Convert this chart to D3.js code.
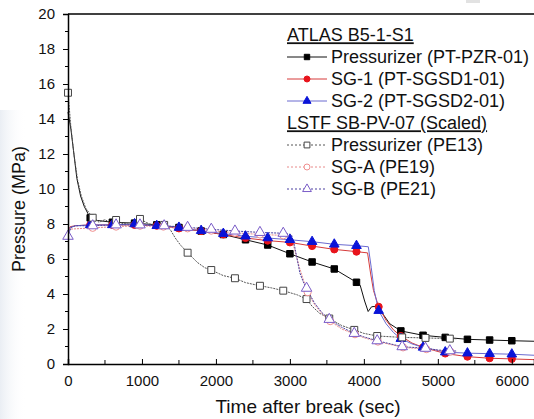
<!DOCTYPE html>
<html>
<head>
<meta charset="utf-8">
<script src="https://cdn.jsdelivr.net/npm/d3@7"></script>
<style>
    body { margin: 0; background: #fff; }
    text { font-family: Arial, "Liberation Sans", sans-serif; fill: #111; }
</style>
</head>
<body>
<svg id="chart" width="534" height="419"></svg>
<script>
// data: [time (s), pressure (MPa), has marker]
const atlas_pzr= [
    [0,14.4,0],[40,13.4,0],[80,12.0,0],[120,10.6,0],[170,9.6,0],[220,9.0,0],[300,8.35,1],[400,8.2,0],
    [600,8.1,1],[900,8.05,1],[1200,7.95,1],[1500,7.8,1],[1800,7.6,1],[2100,7.4,1],[2400,7.1,1],
    [2700,6.8,1],[3000,6.3,1],[3300,5.83,1],[3600,5.43,1],[3900,4.67,1],[3950,4.5,0],[4010,3.6,0],
    [4058,3.0,0],[4104,3.27,0],[4170,3.3,0],[4250,2.9,0],[4350,2.3,0],[4500,1.89,1],[4800,1.64,1],
    [5100,1.52,1],[5400,1.41,1],[5700,1.37,1],[6000,1.33,1],[6300,1.3,0],
]
const atlas_sg1= [
    [0,7.6,0],[30,7.85,0],[100,7.9,0],[300,7.95,1],[600,7.95,1],[900,7.95,1],[1200,7.9,1],[1500,7.75,1],
    [1800,7.6,1],[2100,7.4,1],[2400,7.2,1],[2700,7.05,1],[3000,6.95,1],[3300,6.74,1],[3600,6.55,1],
    [3900,6.42,1],[4050,6.35,0],[4090,5.2,0],[4130,4.2,0],[4200,3.27,1],[4300,2.5,0],[4400,1.95,0],
    [4500,1.6,1],[4650,1.2,0],[4800,0.95,1],[5100,0.6,1],[5400,0.42,1],[5700,0.33,1],[6000,0.29,1],
    [6300,0.25,0],
]
const atlas_sg2= [
    [0,7.4,0],[30,7.8,0],[100,7.9,0],[300,7.95,1],[600,7.95,1],[900,8.0,1],[1200,7.9,1],[1500,7.8,1],
    [1800,7.62,1],[2100,7.45,1],[2400,7.3,1],[2700,7.2,1],[3000,7.1,1],[3300,6.99,1],[3600,6.84,1],
    [3900,6.76,1],[4060,6.7,0],[4100,5.5,0],[4140,4.2,0],[4200,3.05,1],[4300,2.3,0],[4400,1.8,0],
    [4500,1.45,1],[4650,1.15,0],[4800,0.95,1],[5100,0.68,1],[5400,0.62,1],[5700,0.59,1],[6000,0.56,1],
    [6300,0.5,0],
]
const lstf_pzr= [
    [0,15.5,1],[40,13.5,0],[80,12.0,0],[130,10.5,0],[180,9.6,0],[240,8.9,0],[334,8.36,1],[420,8.1,0],
    [500,8.25,0],[580,8.05,0],[650,8.23,1],[750,8.0,0],[850,8.1,0],[973,8.29,1],[1100,8.0,0],
    [1300,7.95,1],[1380,7.7,0],[1450,7.2,0],[1520,6.8,0],[1617,6.36,1],[1750,5.8,0],[1850,5.5,0],
    [1937,5.37,1],[2100,5.05,0],[2257,4.9,1],[2400,4.65,0],[2595,4.47,1],[2750,4.35,0],[2910,4.19,1],
    [3100,3.95,0],[3225,3.71,1],[3300,3.3,0],[3400,2.9,0],[3532,2.6,1],[3700,2.2,0],[3870,1.95,1],
    [4000,1.75,0],[4180,1.6,1],[4518,1.52,1],[4833,1.49,1],[5162,1.45,1],[5250,1.44,0],
]
const lstf_sga= [
    [0,7.7,0],[334,7.78,1],[650,7.85,1],[973,7.9,1],[1290,7.85,1],[1617,7.75,1],[1937,7.62,1],
    [2257,7.5,1],[2595,7.4,1],[2910,7.35,1],[3010,7.3,0],[3060,6.6,0],[3130,5.5,0],[3190,4.7,0],
    [3240,4.1,1],[3340,3.35,0],[3440,2.85,0],[3545,2.45,1],[3700,2.0,0],[3880,1.7,1],[4000,1.5,0],
    [4190,1.28,1],[4530,0.95,1],[4845,0.85,1],[5170,0.7,1],[5250,0.68,0],
]
const lstf_sgb= [
    [0,7.3,1],[40,7.8,0],[100,7.9,0],[334,7.9,1],[650,7.95,1],[973,7.95,1],[1300,7.9,1],[1617,7.81,1],
    [1937,7.7,1],[2257,7.6,1],[2595,7.52,1],[2910,7.47,1],[3020,7.4,0],[3060,6.8,0],[3135,5.2,0],
    [3180,4.7,0],[3225,4.33,1],[3330,3.5,0],[3430,2.95,0],[3532,2.55,1],[3700,2.1,0],[3870,1.75,1],
    [4000,1.55,0],[4180,1.33,1],[4518,0.99,1],[4833,0.9,1],[5000,0.8,0],[5162,0.76,1],[5250,0.74,0],
]
const x_ticks= [0,1000,2000,3000,4000,5000,6000]
const y_ticks= [0,2,4,6,8,10,12,14,16,18,20]

// series styles (drawing order: ATLAS first, LSTF on top)
const series= [
    {name:"Pressurizer (PT-PZR-01)", data:atlas_pzr, line:"#111", dash:null, symbol:d3.symbolSquare, size:42, fill:"#000", stroke:"#000"},
    {name:"SG-1 (PT-SGSD1-01)", data:atlas_sg1, line:"#d63a3a", dash:null, symbol:d3.symbolCircle, size:40, fill:"#e8141c", stroke:"#e8141c"},
    {name:"SG-2 (PT-SGSD2-01)", data:atlas_sg2, line:"#6a6ad0", dash:null, symbol:d3.symbolTriangle, size:40, fill:"#0a14d8", stroke:"#0a14d8"},
    {name:"Pressurizer (PE13)", data:lstf_pzr, line:"#555", dash:"2,1", symbol:d3.symbolSquare, size:48, fill:"#fff", stroke:"#444"},
    {name:"SG-A (PE19)", data:lstf_sga, line:"#e88a8a", dash:"2,1", symbol:d3.symbolCircle, size:40, fill:"#fff", stroke:"#f09090"},
    {name:"SG-B (PE21)", data:lstf_sgb, line:"#4a3fa0", dash:"2,1", symbol:d3.symbolTriangle, size:48, fill:"#fff", stroke:"#7a5cc8"},
]

const svg= d3.select("#chart")
const m_left= 68, m_right= 534, m_top= 14, m_bottom= 364

// faint shading on the left edge
let defs= svg.append("defs")
let grad= defs.append("linearGradient").attr("id", "shade").attr("x1", 0).attr("x2", 1).attr("y1", 0).attr("y2", 0)
grad.append("stop").attr("offset", 0).attr("stop-color", "#d5dde8").attr("stop-opacity", 0.5)
grad.append("stop").attr("offset", 1).attr("stop-color", "#fff").attr("stop-opacity", 0)
svg.append("rect").attr("x", 0).attr("y", 110).attr("width", 26).attr("height", 309).attr("fill", "url(#shade)")
svg.append("rect").attr("x", 466).attr("y", 0).attr("width", 14).attr("height", 3).attr("fill", "#e2e2e2")

const x= d3.scaleLinear().domain([0, 6300]).range([m_left, m_right])
const y= d3.scaleLinear().domain([0, 20]).range([m_bottom, m_top])

// lines
let line= d3.line().x(d => x(d[0])).y(d => y(d[1]))
let plot= svg.append("g")
series.forEach(s => {
    plot.append("path")
        .attr("d", line(s.data))
        .attr("fill", "none")
        .attr("stroke", s.line)
        .attr("stroke-width", 1)
        .attr("stroke-dasharray", s.dash)
})
series.forEach(s => {
    plot.append("g").selectAll("path")
        .data(s.data.filter(d => d[2]))
        .join("path")
        .attr("transform", d => `translate(${x(d[0])},${y(d[1])})`)
        .attr("d", d3.symbol(s.symbol, s.size))
        .attr("fill", s.fill)
        .attr("stroke", s.stroke)
        .attr("stroke-width", 1)
})

// axes
let x_axis= svg.append("g").attr("transform", `translate(0,${m_bottom})`)
    .call(d3.axisBottom(x).tickValues(x_ticks).tickSize(-5).tickPadding(11).tickFormat(d3.format("d")))
x_axis.append("g").selectAll("line")
    .data(d3.range(500, 6300, 1000))
    .join("line")
    .attr("x1", d => x(d)).attr("x2", d => x(d))
    .attr("y1", 0).attr("y2", -4)
    .attr("stroke", "#000")
let y_axis= svg.append("g").attr("transform", `translate(${m_left},0)`)
    .call(d3.axisLeft(y).tickValues(y_ticks).tickSize(5).tickPadding(8))
y_axis.append("g").selectAll("line")
    .data(d3.range(1, 20, 2))
    .join("line")
    .attr("y1", d => y(d)).attr("y2", d => y(d))
    .attr("x1", 0).attr("x2", -3)
    .attr("stroke", "#000")
svg.selectAll(".domain").attr("stroke", "#000").attr("stroke-width", 1.5)
svg.selectAll(".tick text").attr("font-size", 15).attr("fill", "#111")
    .style("font-family", "Arial, 'Liberation Sans', sans-serif")
svg.append("line").attr("x1", m_left).attr("x2", m_right).attr("y1", m_top).attr("y2", m_top)
    .attr("stroke", "#000").attr("stroke-width", 1.5)

// axis titles
svg.append("text").attr("x", 308).attr("y", 413).attr("text-anchor", "middle")
    .attr("font-size", 19).text("Time after break (sec)")
svg.append("text").attr("transform", "translate(25,209) rotate(-90)").attr("text-anchor", "middle")
    .attr("font-size", 18).text("Pressure (MPa)")

// legend
let legend= svg.append("g").attr("font-size", 18)
const row_h= 22, lx= 287
let headers= [["ATLAS B5-1-S1", 0], ["LSTF SB-PV-07 (Scaled)", 4]]
headers.forEach(h => {
    legend.append("text").attr("x", lx).attr("y", 35 + h[1]*row_h).attr("dy", "0.35em")
        .attr("text-decoration", "underline").text(h[0])
})
series.forEach((s, i) => {
    let row= i < 3 ? i + 1 : i + 2
    let cy= 35 + row*row_h
    legend.append("line").attr("x1", lx).attr("x2", lx + 40).attr("y1", cy).attr("y2", cy)
        .attr("stroke", s.line).attr("stroke-width", 1).attr("stroke-dasharray", s.dash ? "2,2" : null)
    legend.append("path").attr("transform", `translate(${lx + 20},${cy})`)
        .attr("d", d3.symbol(s.symbol, s.size*0.7))
        .attr("fill", s.fill).attr("stroke", s.stroke)
    legend.append("text").attr("x", lx + 44).attr("y", cy).attr("dy", "0.35em").text(s.name)
})
</script>
</body>
</html>
